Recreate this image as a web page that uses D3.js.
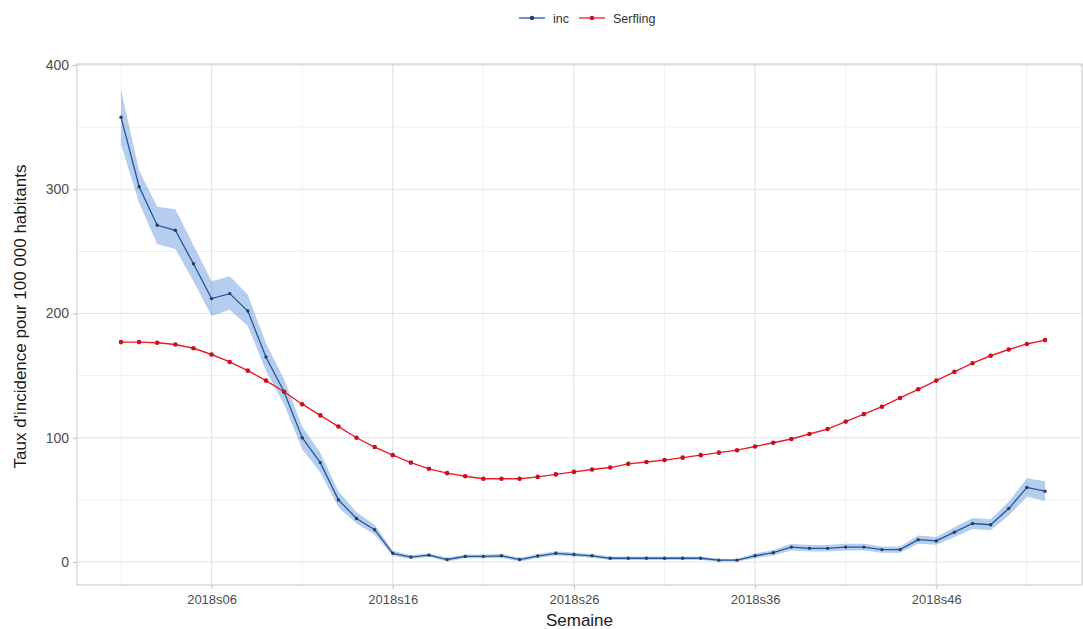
<!DOCTYPE html>
<html>
<head>
<meta charset="utf-8">
<script src="https://cdn.jsdelivr.net/npm/d3@7"></script>
<style>
  body { margin: 0; background: #fff; }
  svg { font-family: "Liberation Sans", Arial, sans-serif; }
</style>
</head>
<body>
<div id="chart"></div>
<script>
const weeks = [
  '2018s01','2018s02','2018s03','2018s04','2018s05','2018s06','2018s07','2018s08','2018s09','2018s10',
  '2018s11','2018s12','2018s13','2018s14','2018s15','2018s16','2018s17','2018s18','2018s19','2018s20',
  '2018s21','2018s22','2018s23','2018s24','2018s25','2018s26','2018s27','2018s28','2018s29','2018s30',
  '2018s31','2018s32','2018s33','2018s34','2018s35','2018s36','2018s37','2018s38','2018s39','2018s40',
  '2018s41','2018s42','2018s43','2018s44','2018s45','2018s46','2018s47','2018s48','2018s49','2018s50',
  '2018s51','2018s52',
]
const majorTicks = ['2018s06', '2018s16', '2018s26', '2018s36', '2018s46']
const minorTicks = ['2018s01', '2018s11', '2018s21', '2018s31', '2018s41', '2018s51']
const yTicks = [0, 100, 200, 300, 400]
const yMinor = [50, 150, 250, 350]

const inc = [
  358, 302, 271, 267, 240, 212, 216, 202, 165, 137,
  100, 80, 50, 35, 26, 7, 4, 5.5, 2, 4.5,
  4.5, 5, 2, 4.8, 7, 6, 5, 3, 3, 3,
  3, 3, 3, 1.5, 1.5, 5, 7.5, 12, 11, 11,
  12, 12, 10, 10, 18, 17, 24, 31, 30, 43,
  60, 57,
]
const incLow = [
  336, 289, 256, 252, 226, 198, 203, 190, 154, 127,
  91, 72, 44, 31, 22, 5, 2.5, 4, 0.5, 3,
  3, 3.5, 0.5, 3.2, 5.3, 4.4, 3.5, 1.6, 1.6, 1.6,
  1.6, 1.6, 1.6, 0.3, 0.3, 3.2, 5.3, 9.3, 8.4, 8.4,
  9.3, 9.3, 7.5, 7.5, 14.6, 13.8, 20, 26.5, 25.5, 37.5,
  52.5, 49,
]
const incHigh = [
  380, 315, 286, 284, 255, 226, 230, 215, 176, 147,
  109, 88, 57, 40, 30, 9, 5.5, 7, 3.5, 6,
  6, 6.5, 3.5, 6.4, 8.7, 7.6, 6.5, 4.4, 4.4, 4.4,
  4.4, 4.4, 4.4, 2.7, 2.7, 6.8, 9.7, 14.7, 13.6, 13.6,
  14.7, 14.7, 12.5, 12.5, 21.4, 20.2, 28, 35.5, 34.5, 48.5,
  67.5, 65,
]
const serfling = [
  177, 177, 176.5, 175, 172, 167, 161, 154, 146, 137,
  127, 118, 109, 100, 92.5, 86, 80, 75, 71.5, 69,
  67, 67, 67, 68.5, 70.5, 72.5, 74.5, 76, 79, 80.5,
  82, 84, 86, 88, 90, 93, 96, 99, 103, 107,
  113, 119, 125, 132, 139, 146, 153, 160, 166, 171,
  175.5, 178.6,
]

const W = 1083
const H = 629
const panel = {left: 77, right: 1082, top: 64, bottom: 585}
const fontFamily = '"Liberation Sans", Arial, sans-serif'

const svg = d3.select('#chart').append('svg').attr('width', W).attr('height', H)

const x = d3.scalePoint().domain(weeks).range([121, 1045])
const y = d3.scaleLinear().domain([0, 400]).range([562, 65])

// grid
const grid = svg.append('g')
grid.selectAll('line.minx').data(minorTicks).enter().append('line')
  .attr('x1', d => x(d)).attr('x2', d => x(d))
  .attr('y1', panel.top).attr('y2', panel.bottom)
  .attr('stroke', '#f1f1f1').attr('stroke-width', 1)
grid.selectAll('line.miny').data(yMinor).enter().append('line')
  .attr('x1', panel.left).attr('x2', panel.right)
  .attr('y1', d => y(d)).attr('y2', d => y(d))
  .attr('stroke', '#f1f1f1').attr('stroke-width', 1)
grid.selectAll('line.majx').data(majorTicks).enter().append('line')
  .attr('x1', d => x(d)).attr('x2', d => x(d))
  .attr('y1', panel.top).attr('y2', panel.bottom)
  .attr('stroke', '#e3e3e3').attr('stroke-width', 1.2)
grid.selectAll('line.majy').data(yTicks).enter().append('line')
  .attr('x1', panel.left).attr('x2', panel.right)
  .attr('y1', d => y(d)).attr('y2', d => y(d))
  .attr('stroke', '#e3e3e3').attr('stroke-width', 1.2)

// panel border
svg.append('rect')
  .attr('x', panel.left).attr('y', panel.top)
  .attr('width', panel.right - panel.left).attr('height', panel.bottom - panel.top)
  .attr('fill', 'none').attr('stroke', '#cfcfcf').attr('stroke-width', 1.2)

// axes
const xAxis = d3.axisBottom(x).tickValues(majorTicks).tickSize(4).tickPadding(6)
svg.append('g')
  .attr('transform', `translate(0, ${panel.bottom})`)
  .call(xAxis)
  .call(g => g.select('.domain').remove())
  .call(g => g.selectAll('line').attr('stroke', '#bdbdbd'))
  .call(g => g.selectAll('text').attr('fill', '#4d4d4d').attr('font-size', 13)
    .attr('font-family', fontFamily))

const yAxis = d3.axisLeft(y).tickValues(yTicks).tickSize(4).tickPadding(4)
svg.append('g')
  .attr('transform', `translate(${panel.left}, 0)`)
  .call(yAxis)
  .call(g => g.select('.domain').remove())
  .call(g => g.selectAll('line').attr('stroke', '#bdbdbd'))
  .call(g => g.selectAll('text').attr('fill', '#4d4d4d').attr('font-size', 14)
    .attr('font-family', fontFamily))

svg.append('text')
  .attr('x', (panel.left + panel.right) / 2).attr('y', 626)
  .attr('text-anchor', 'middle').attr('font-size', 17).attr('fill', '#1a1a1a')
  .text('Semaine')

svg.append('text')
  .attr('transform', `translate(26, ${(panel.top + panel.bottom) / 2 - 8}) rotate(-90)`)
  .attr('text-anchor', 'middle').attr('font-size', 17).attr('fill', '#1a1a1a')
  .text("Taux d'incidence pour 100 000 habitants")

// ribbon
const area = d3.area()
  .x((d, i) => x(weeks[i]))
  .y0((d, i) => y(incLow[i]))
  .y1((d, i) => y(incHigh[i]))
svg.append('path')
  .datum(inc)
  .attr('d', area)
  .attr('fill', '#5b93dc').attr('fill-opacity', 0.45)

const line = d3.line().x((d, i) => x(weeks[i])).y(d => y(d))

const blue = '#24569a'
const red = '#ec1c24'

svg.append('path').datum(inc).attr('d', line)
  .attr('fill', 'none').attr('stroke', blue).attr('stroke-width', 1.3)
svg.append('g').selectAll('circle').data(inc).enter().append('circle')
  .attr('cx', (d, i) => x(weeks[i])).attr('cy', d => y(d)).attr('r', 1.7)
  .attr('fill', '#233f66')

svg.append('path').datum(serfling).attr('d', line)
  .attr('fill', 'none').attr('stroke', red).attr('stroke-width', 1.4)
svg.append('g').selectAll('circle').data(serfling).enter().append('circle')
  .attr('cx', (d, i) => x(weeks[i])).attr('cy', d => y(d)).attr('r', 2.3)
  .attr('fill', '#c4121d')

// legend
const legend = svg.append('g').attr('transform', 'translate(0, 18)')
const legendItems = [
  {label: 'inc', color: blue, dot: '#233f66', x: 519},
  {label: 'Serfling', color: red, dot: '#c4121d', x: 579},
]
legendItems.forEach(it => {
  const g = legend.append('g').attr('transform', `translate(${it.x}, 0)`)
  g.append('line').attr('x1', 0).attr('x2', 26).attr('y1', 0).attr('y2', 0)
    .attr('stroke', it.color).attr('stroke-width', 1.3)
  g.append('circle').attr('cx', 13).attr('cy', 0).attr('r', 2.2).attr('fill', it.dot)
  g.append('text').attr('x', 34).attr('y', 4.5).attr('font-size', 12.5).attr('fill', '#333')
    .text(it.label)
})
</script>
</body>
</html>
